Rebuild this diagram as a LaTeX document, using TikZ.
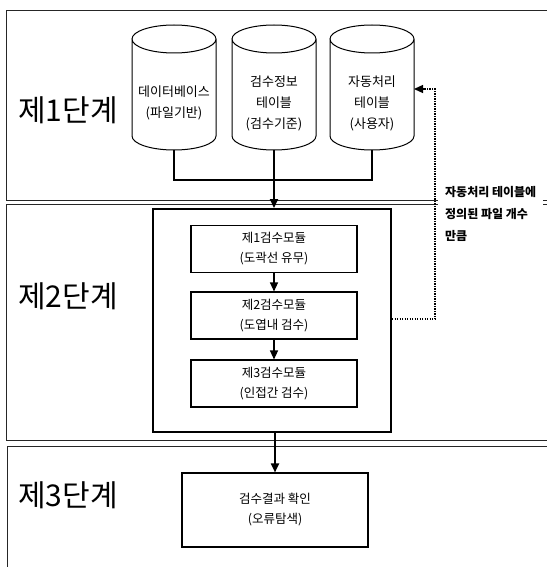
\documentclass[tikz,border=0pt]{standalone}
\usepackage{fontspec}
\setmainfont{Noto Sans CJK KR}
\usetikzlibrary{arrows.meta}

\begin{document}
\begin{tikzpicture}[x=1pt,y=-1pt,>={Triangle[length=9pt,width=8pt]},
  frame/.style={line width=0.9pt,black!85},
  stagelabel/.style={font=\fontsize{30}{32}\selectfont},
  dbtext/.style={align=center,font=\fontsize{13}{21}\selectfont},
  module/.style={draw,line width=1.1pt,minimum width=166pt,minimum height=47pt,align=center,font=\fontsize{12.5}{20}\selectfont},
  flow/.style={->,line width=1.8pt}]
\useasboundingbox (0,0) rectangle (546,567);
\draw [frame] (552,10) -| (6,200) -- (552,200);
\draw [frame] (552,204) -| (6,440) -- (552,440);
\draw [frame] (552,446) -| (7,572);
\node [stagelabel] (stage1) at (68,110) {제1단계};
\node [stagelabel] (stage2) at (68,296) {제2단계};
\node [stagelabel] (stage3) at (68,495) {제3단계};
\draw [line width=1pt] (132,39) -- (132,136) arc [start angle=180,end angle=360,x radius=42pt,y radius=14pt]
-- (216,39) arc [start angle=0,end angle=180,x radius=42pt,y radius=14pt]
arc [start angle=180,end angle=360,x radius=42pt,y radius=14pt];
\draw [line width=1pt] (232,39) -- (232,136) arc [start angle=180,end angle=360,x radius=42pt,y radius=14pt]
-- (316,39) arc [start angle=0,end angle=180,x radius=42pt,y radius=14pt]
arc [start angle=180,end angle=360,x radius=42pt,y radius=14pt];
\draw [line width=1pt] (330,39) -- (330,136) arc [start angle=180,end angle=360,x radius=42pt,y radius=14pt]
-- (414,39) arc [start angle=0,end angle=180,x radius=42pt,y radius=14pt]
arc [start angle=180,end angle=360,x radius=42pt,y radius=14pt];
\coordinate (db1) at (174,150);
\coordinate (db2) at (274,150);
\coordinate (db3) at (372,150);
\coordinate (db3r) at (414,89);
\node [dbtext] (dbname1) at (174,103) {데이터베이스\\(파일기반)};
\node [dbtext] (dbname2) at (274,103) {검수정보\\테이블\\(검수기준)};
\node [dbtext] (dbname3) at (372,103) {자동처리\\테이블\\(사용자)};
\node [draw,line width=2pt,minimum width=238pt,minimum height=223pt] (checker) at (272,320.5) {};
\node [module] (mod1) at (274,249) {제1검수모듈\\(도곽선 유무)};
\node [module] (mod2) at (274,315.5) {제2검수모듈\\(도엽내 검수)};
\node [module] (mod3) at (274,383.5) {제3검수모듈\\(인접간 검수)};
\node [module,minimum width=186pt,minimum height=74pt] (result) at (275,510) {검수결과 확인\\(오류탐색)};
\draw [line width=1.8pt] (db1) -- ++(0,30) -| (db3);
\draw [flow] (db2) -- (db2 |- checker.north);
\draw [->,line width=1.2pt] (mod1) -- (mod2);
\draw [->,line width=1.2pt] (mod2) -- (mod3);
\draw [flow] (result.north |- checker.south) -- (result.north);
\draw [->,line width=1.3pt,dash pattern=on 1.3pt off 1.2pt] (checker.east |- 0,319) -- (435,319) |- (db3r);
\node [fill=white,anchor=west,align=left,inner xsep=7pt,inner ysep=0pt,font=\bfseries\fontsize{12}{22}\selectfont] (note) at (438,214) {자동처리 테이블에\\정의된 파일 개수\\만큼};
\end{tikzpicture}
\end{document}
